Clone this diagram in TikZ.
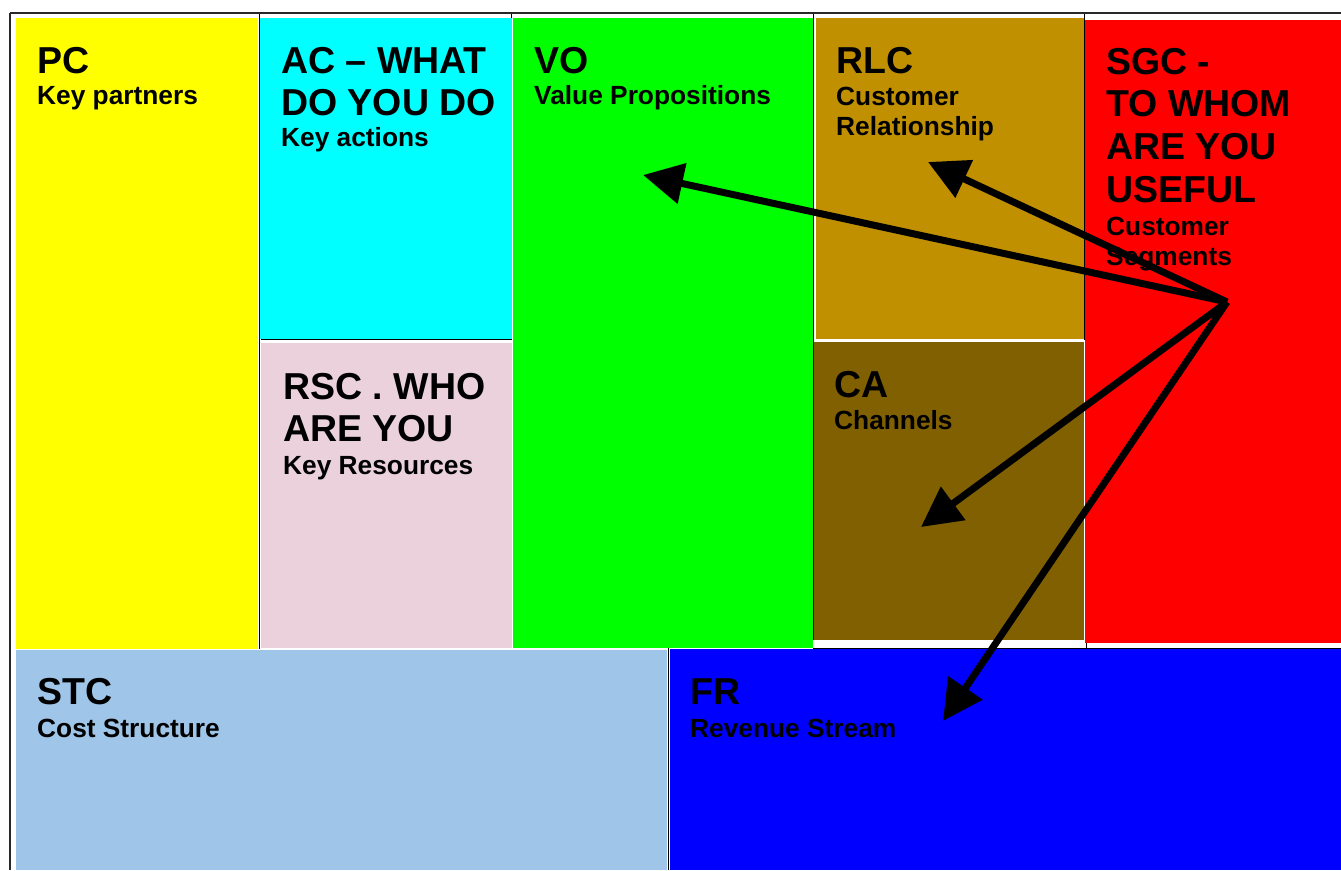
\documentclass[tikz,border=0pt]{standalone}
\usepackage{fontspec}
\setmainfont{Liberation Sans}
\usetikzlibrary{arrows.meta}
\definecolor{cellyellow}{RGB}{255,255,0}
\definecolor{cellcyan}{RGB}{0,255,255}
\definecolor{cellpink}{RGB}{234,209,220}
\definecolor{cellgreen}{RGB}{0,255,0}
\definecolor{cellgold}{RGB}{192,144,0}
\definecolor{cellbrown}{RGB}{128,96,0}
\definecolor{cellred}{RGB}{255,0,0}
\definecolor{cellsky}{RGB}{159,197,232}
\definecolor{cellblue}{RGB}{0,0,255}
\definecolor{framegrey}{RGB}{40,40,40}
\begin{document}
\begin{tikzpicture}[x=1pt,y=-1pt,
  ttl/.style={anchor=base west,inner sep=0pt,font=\fontsize{37.5}{42.7}\selectfont\bfseries},
  sub/.style={anchor=base west,inner sep=0pt,font=\fontsize{26.3}{30.5}\selectfont\bfseries},
  rule/.style={line width=1pt,draw=black},
  arr/.style={line width=7pt,draw=black,-{Triangle[length=40pt,width=40pt]}}]
\useasboundingbox (0,0) rectangle (1341,870);
\fill[white] (0,0) rectangle (1341,870);

% canvas cells
\fill[cellyellow] (16,18) rectangle (258,649);
\fill[cellcyan]   (260,18) rectangle (512,338.5);
\fill[cellpink]   (261,343) rectangle (512,648);
\fill[cellgreen]  (513,18) rectangle (813,648);
\fill[cellgold]   (816,18) rectangle (1083.5,339);
\fill[cellbrown]  (813,342) rectangle (1083.5,640);
\fill[cellred]    (1085,20) rectangle (1341,643);
\fill[cellsky]    (16,650) rectangle (667,870);
\fill[cellblue]   (670,649) rectangle (1341,870);

% thin separating rules
\draw[rule] (259,14) -- (259,649);
\draw[rule] (511,14) -- (511,18);
\draw[rule] (261,339.5) -- (512,339.5);
\draw[rule] (813.5,14) -- (813.5,640);
\draw[rule] (1084,14) -- (1084,340);
\draw[rule] (668.5,648) -- (668.5,870);
\draw[rule] (813,648) -- (1341,648);
\draw[rule] (1086,643) -- (1086,648);

% outer frame
\draw[framegrey,line width=2pt] (10,13) -- (1341,13);
\draw[framegrey,line width=2pt] (10,13) -- (10,870);

% block texts
\node[ttl] (pc-t) at (37,73) {PC};
\node[sub] (pc-s) at (37,104) {Key partners};

\node[ttl] (ac-t) at (281,73) {\vtop{\hbox{AC – WHAT}\hbox{DO YOU DO}}};
\node[sub] (ac-s) at (281,146) {Key actions};

\node[ttl] (vo-t) at (534,73) {VO};
\node[sub] (vo-s) at (534,104) {Value Propositions};

\node[ttl] (rlc-t) at (836,73) {RLC};
\node[sub] (rlc-s) at (836,105) {\vtop{\hbox{Customer}\hbox{Relationship}}};

\node[ttl] (sgc-t) at (1106,74) {\vtop{\hbox{SGC -}\hbox{TO WHOM}\hbox{ARE YOU}\hbox{USEFUL}}};
\node[sub] (sgc-s) at (1106,235) {\vtop{\hbox{Customer}\hbox{Segments}}};

\node[ttl] (rsc-t) at (283,399) {\vtop{\hbox{RSC . WHO}\hbox{ARE YOU}}};
\node[sub] (rsc-s) at (283,474) {Key Resources};

\node[ttl] (ca-t) at (834,397) {CA};
\node[sub] (ca-s) at (834,429) {Channels};

\node[ttl] (stc-t) at (37,704) {STC};
\node[sub] (stc-s) at (37,737) {Cost Structure};

\node[ttl] (fr-t) at (690,704) {FR};
\node[sub] (fr-s) at (690,737) {Revenue Stream};

% arrows fanning out from the customer segments
\coordinate (hub) at (1227,302);
\coordinate (vo-tip) at (643,175);
\coordinate (rlc-tip) at (928,162);
\coordinate (ca-tip) at (921,527);
\coordinate (fr-tip) at (943,721);
\draw[arr] (hub) -- (vo-tip);
\draw[arr] (hub) -- (rlc-tip);
\draw[arr] (hub) -- (ca-tip);
\draw[arr] (hub) -- (fr-tip);
\end{tikzpicture}
\end{document}
